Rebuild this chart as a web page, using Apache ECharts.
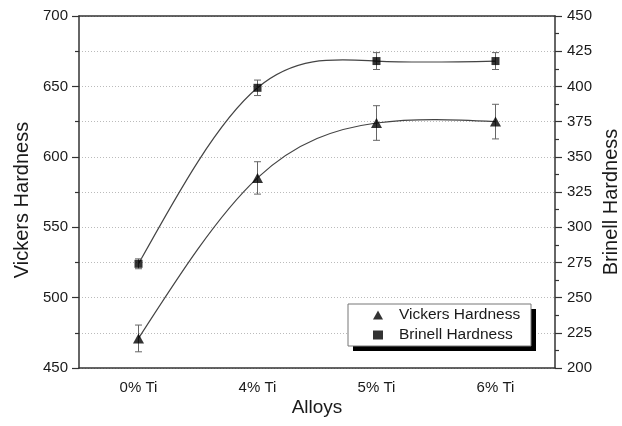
<!DOCTYPE html>
<html><head><meta charset="utf-8">
<script src="https://cdn.jsdelivr.net/npm/echarts@6/dist/echarts.min.js"></script>
<style>html,body{margin:0;padding:0;background:#fff}#c{width:622px;height:426px}</style>
</head><body><div id="c"></div>
<script>
var categories = ['0% Ti', '4% Ti', '5% Ti', '6% Ti'];
var vickers = [471, 585, 624, 625];
var vickersErr = [9.5, 11.5, 12.3, 12.3];
var brinell = [274, 399, 418, 418];
var brinellErr = [3.5, 5.5, 6, 6];

var font = 'Liberation Sans, Arial, sans-serif';
var axisColor = '#333';
var textColor = '#1a1a1a';

function errData(vals, errs) {
  return vals.map(function (v, i) { return [i, v - errs[i], v + errs[i]]; });
}
function errRender(params, api) {
  var x = api.value(0);
  var lo = api.coord([x, api.value(1)]);
  var hi = api.coord([x, api.value(2)]);
  var hw = 3.5;
  var st = { stroke: '#666', lineWidth: 1, fill: null };
  return { type: 'group', children: [
    { type: 'line', shape: { x1: lo[0], y1: lo[1], x2: hi[0], y2: hi[1] }, style: st },
    { type: 'line', shape: { x1: lo[0] - hw, y1: lo[1], x2: lo[0] + hw, y2: lo[1] }, style: st },
    { type: 'line', shape: { x1: hi[0] - hw, y1: hi[1], x2: hi[0] + hw, y2: hi[1] }, style: st }
  ]};
}
// natural cubic spline through the data points (in pixel space), drawn as bezier segments
function splineRender(values) {
  return function (params, api) {
    if (params.dataIndex !== 0) return null;
    var pts = values.map(function (v, i) { return api.coord([i, v]); });
    var n = pts.length;
    var h = [], i;
    for (i = 0; i < n - 1; i++) h.push(pts[i + 1][0] - pts[i][0]);
    var M = new Array(n).fill(0);
    var a = [], b = [], c = [], d = [];
    for (i = 1; i < n - 1; i++) {
      a.push(h[i - 1]); b.push(2 * (h[i - 1] + h[i])); c.push(h[i]);
      d.push(6 * ((pts[i + 1][1] - pts[i][1]) / h[i] - (pts[i][1] - pts[i - 1][1]) / h[i - 1]));
    }
    var m = b.length;
    for (i = 1; i < m; i++) {
      var w = a[i] / b[i - 1];
      b[i] -= w * c[i - 1]; d[i] -= w * d[i - 1];
    }
    var sol = new Array(m);
    for (i = m - 1; i >= 0; i--) sol[i] = (d[i] - (i < m - 1 ? c[i] * sol[i + 1] : 0)) / b[i];
    for (i = 0; i < m; i++) M[i + 1] = sol[i];
    var path = 'M' + pts[0][0] + ' ' + pts[0][1];
    for (i = 0; i < n - 1; i++) {
      var hh = h[i], y0 = pts[i][1], y1 = pts[i + 1][1];
      var s = (y1 - y0) / hh;
      var d0 = s - hh * (2 * M[i] + M[i + 1]) / 6;
      var d1 = s + hh * (M[i] + 2 * M[i + 1]) / 6;
      path += ' C' + (pts[i][0] + hh / 3) + ' ' + (y0 + d0 * hh / 3) + ' ' +
        (pts[i + 1][0] - hh / 3) + ' ' + (y1 - d1 * hh / 3) + ' ' + pts[i + 1][0] + ' ' + y1;
    }
    return { type: 'path', shape: { pathData: path },
      style: { stroke: '#444', lineWidth: 1.2, fill: null } };
  };
}

var chart = echarts.init(document.getElementById('c'), null, { renderer: 'canvas' });
chart.setOption({
  animation: false,
  backgroundColor: '#fff',
  textStyle: { fontFamily: font },
  grid: { left: 79, right: 67, top: 16, bottom: 58, containLabel: false },
  graphic: [
    { type: 'rect', z: 50, shape: { x: 353, y: 309, width: 183, height: 42 }, style: { fill: '#000' } },
    { type: 'rect', z: 51, shape: { x: 348, y: 304, width: 183, height: 42 }, style: { fill: '#fff', stroke: '#777', lineWidth: 1 } },
    { type: 'text', z: 10, x: 22, y: 200, rotation: Math.PI / 2,
      style: { text: 'Vickers Hardness', font: '20px ' + font, fill: textColor, align: 'center', verticalAlign: 'middle' } },
    { type: 'text', z: 10, x: 611, y: 202, rotation: Math.PI / 2,
      style: { text: 'Brinell Hardness', font: '20px ' + font, fill: textColor, align: 'center', verticalAlign: 'middle' } },
    { type: 'text', z: 10, x: 317, y: 408,
      style: { text: 'Alloys', font: '19px ' + font, fill: textColor, align: 'center', verticalAlign: 'middle' } }
  ],
  legend: {
    z: 60, orient: 'vertical', left: 373, top: 307,
    data: [{ name: 'Vickers Hardness', icon: 'triangle' }, { name: 'Brinell Hardness', icon: 'rect' }],
    itemWidth: 10, itemHeight: 9, itemGap: 4, padding: 0,
    textStyle: { fontFamily: font, fontSize: 15.5, color: textColor, padding: [0, 0, 0, 11] }
  },
  xAxis: [
    { type: 'category', data: categories, boundaryGap: true, position: 'bottom',
      axisLine: { lineStyle: { color: axisColor, width: 1.5 } },
      axisTick: { alignWithLabel: true, length: 7, lineStyle: { color: axisColor, width: 1.2 } },
      axisLabel: { fontFamily: font, fontSize: 15, color: textColor, margin: 12 },
      splitLine: { show: false } },
    { type: 'category', data: categories, boundaryGap: true, position: 'bottom',
      axisLine: { show: false },
      axisTick: { alignWithLabel: false, length: 4, lineStyle: { color: axisColor, width: 1.2 } },
      axisLabel: { show: false }, splitLine: { show: false } },
    { type: 'category', data: categories, boundaryGap: true, position: 'top',
      axisLine: { lineStyle: { color: axisColor, width: 1.5 } },
      axisTick: { alignWithLabel: true, inside: true, length: 7, lineStyle: { color: axisColor, width: 1.2 } },
      axisLabel: { show: false }, splitLine: { show: false } },
    { type: 'category', data: categories, boundaryGap: true, position: 'top',
      axisLine: { show: false },
      axisTick: { alignWithLabel: false, inside: true, length: 4, lineStyle: { color: axisColor, width: 1.2 } },
      axisLabel: { show: false }, splitLine: { show: false } }
  ],
  yAxis: [
    { type: 'value', min: 450, max: 700, interval: 50, position: 'left',
      axisLine: { show: true, lineStyle: { color: axisColor, width: 1.5 } },
      axisTick: { show: true, length: 7, lineStyle: { color: axisColor, width: 1.2 } },
      minorTick: { show: true, splitNumber: 2, length: 4, lineStyle: { color: axisColor, width: 1.2 } },
      axisLabel: { fontFamily: font, fontSize: 15, color: textColor, margin: 11 },
      splitLine: { show: true, lineStyle: { color: '#bbb', type: [1, 2], width: 1 } },
      minorSplitLine: { show: true, lineStyle: { color: '#bbb', type: [1, 2], width: 1 } } },
    { type: 'value', min: 200, max: 450, interval: 25, position: 'right',
      axisLine: { show: true, lineStyle: { color: axisColor, width: 1.5 } },
      axisTick: { show: true, length: 7, lineStyle: { color: axisColor, width: 1.2 } },
      minorTick: { show: true, splitNumber: 2, length: 4, lineStyle: { color: axisColor, width: 1.2 } },
      axisLabel: { fontFamily: font, fontSize: 15, color: textColor, margin: 12 },
      splitLine: { show: false } }
  ],
  series: [
    { name: 'Vickers Hardness', type: 'scatter', yAxisIndex: 0, data: vickers,
      symbol: 'triangle', symbolSize: [11, 10], z: 5, itemStyle: { color: '#000' } },
    { name: 'Brinell Hardness', type: 'scatter', yAxisIndex: 1, data: brinell,
      symbol: 'rect', symbolSize: 8, z: 5, itemStyle: { color: '#000' } },
    { type: 'custom', yAxisIndex: 0, data: vickers.map(function (v, i) { return [i, v]; }), renderItem: splineRender(vickers), z: 3, silent: true },
    { type: 'custom', yAxisIndex: 1, data: brinell.map(function (v, i) { return [i, v]; }), renderItem: splineRender(brinell), z: 3, silent: true },
    { type: 'custom', yAxisIndex: 0, data: errData(vickers, vickersErr), renderItem: errRender, z: 4, silent: true },
    { type: 'custom', yAxisIndex: 1, data: errData(brinell, brinellErr), renderItem: errRender, z: 4, silent: true }
  ]
});
</script></body></html>
